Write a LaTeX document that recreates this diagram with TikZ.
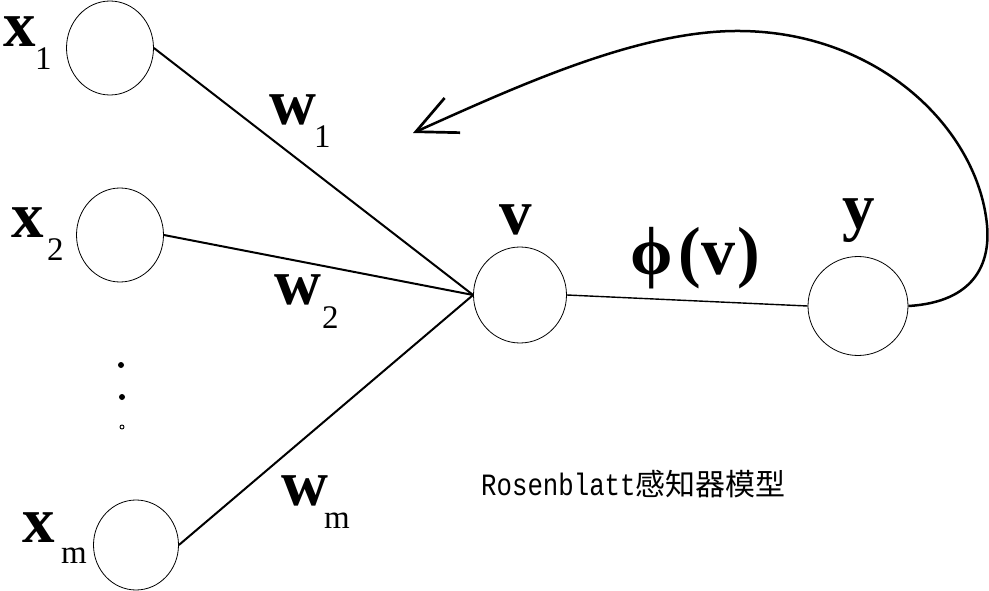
\documentclass[tikz,border=0pt]{standalone}
\usepackage{fontspec}
\setmainfont{Liberation Serif}
\newfontfamily\capmono[FakeStretch=0.83]{Liberation Mono}
\newfontfamily\cjk{Noto Sans CJK SC}
\usetikzlibrary{shapes.geometric,arrows.meta}
\begin{document}
\begin{tikzpicture}[x=1pt,y=-1pt,
  neuron/.style={draw,ellipse,inner sep=0pt,line width=0.8pt},
  lbl/.style={inner sep=0pt,anchor=base west,font=\fontsize{65}{65}\selectfont\bfseries},
  sublbl/.style={inner sep=0pt,anchor=base west,font=\fontsize{33}{33}\selectfont},
  wire/.style={line width=2pt}]
\useasboundingbox[fill=white] (0,0) rectangle (989,591);
% neurons
\node[neuron,minimum width=87pt,minimum height=94pt] (x1) at (110,48) {};
\node[neuron,minimum width=87pt,minimum height=94pt] (x2) at (120,235) {};
\node[neuron,minimum width=85pt,minimum height=90pt] (xm) at (136,545) {};
\node[neuron,minimum width=93pt,minimum height=96pt] (v) at (520,295) {};
\node[neuron,minimum width=100pt,minimum height=99pt] (y) at (858,306) {};
% connections
\draw[wire] (x1.east) -- (v.west);
\draw[wire] (x2.east) -- (v.west);
\draw[wire] (xm.east) -- (v.west);
\draw[line width=1.4pt] (v.east) -- (y.west);
% feedback
\coordinate (tip) at (413,133);
\draw[line width=2.5pt,-{Straight Barb[length=40pt,width=38pt,line width=2.7pt]}]
  (y.east) .. controls (975,302) and (990.6,263) .. (987,225)
  .. controls (978,130) and (880,32) .. (740,31)
  .. controls (640,30) and (520,85) .. (tip);
% dots
\fill (121,365) circle (3);
\fill (122,397) circle (3);
\draw[line width=0.9pt] (122,427) circle (2);
% labels
\node[lbl] (lx1) at (3,47) {x};
\node[sublbl] (sx1) at (35,70) {1};
\node[lbl] (lx2) at (11,237) {x};
\node[sublbl] (sx2) at (47,260) {2};
\node[lbl] (lxm) at (22,542) {x};
\node[sublbl] (sxm) at (61,563) {m};
\node[lbl] (lw1) at (269,125) {w};
\node[sublbl] (sw1) at (314,148) {1};
\node[lbl] (lw2) at (274,305) {w};
\node[sublbl] (sw2) at (322,328) {2};
\node[lbl] (lwm) at (281,505) {w};
\node[sublbl] (swm) at (324,528) {m};
\node[lbl] (lv) at (499,235) {v};
\node[lbl] (ly) at (842,229) {y};
\node[lbl,font=\fontsize{68}{68}\selectfont\bfseries] (lphi) at (630,274) {ϕ\kern6pt(v\kern2pt)};
\node[inner sep=0pt,anchor=base west] (cap) at (481,495)
  {\fontsize{31}{31}\capmono Rosenblatt\fontsize{30}{30}\cjk 感知器模型};
\end{tikzpicture}
\end{document}
